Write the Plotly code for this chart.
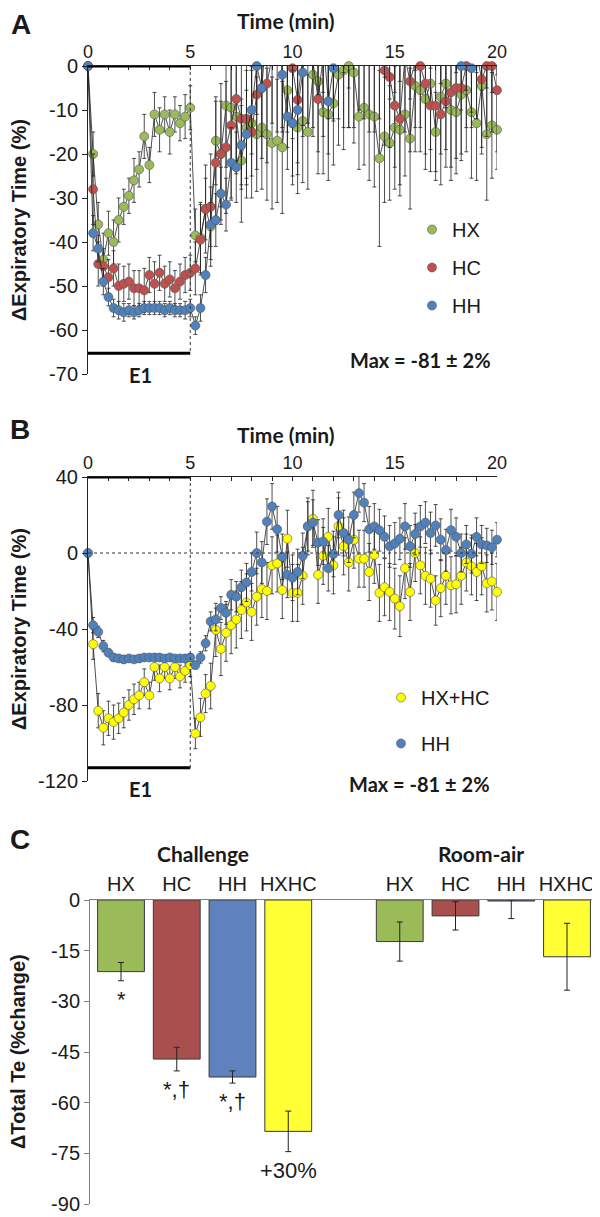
import plotly.graph_objects as go

# time points (min), one every 15 s
time_min = [i / 4 for i in range(81)]

# Panel A: change in expiratory time (%)
hx = [0, -20, -36, -44, -38, -40, -35, -32, -29.5, -26, -23.5, -16, -22.5, -11, -14.5, -11, -15, -11, -13, -11.5, -9.5,
      -38.5, -39, -32.5, -36.5, -17, -20, -9, -9.5, -11.5, -21.5, -14, -13, -15.5, -14, -15.5, -17.5, -17, -18.5, -5.5, -13,
      -14, -12.5, -15, -2, -3.5, -10.5, -11, -8.5, -2, -1, 0, -1.5, -11.5, -9.5, -11, -11.5, -21, -16, -17.5, -14,
      -14.5, -11, -16.5, -4.5, -5.5, -7.5, -4, -15, -7, -4, -10, -10.5, -6.5, -5.5, -10.5, -13, -4.5, -15.5, -13.5, -14.5]
hx_err = [0, 5, 5, 6, 5, 5, 5, 4, 4, 5, 4, 5, 4, 5, 5, 4, 5, 4, 4, 5, 5,
          6, 8, 7, 9, 10, 12, 14, 12, 13, 14, 13, 12, 13, 14, 15, 15, 14, 15, 13, 14,
          15, 14, 13, 14, 16, 14, 15, 14, 16, 18, 14, 16, 12, 13, 15, 16, 20, 15, 13, 14,
          15, 14, 16, 15, 14, 16, 15, 9, 13, 15, 16, 14, 15, 14, 15, 13, 14, 15, 12, 9]

hc = [0, -28, -45, -45.5, -48, -46, -50, -49.5, -49, -50.5, -50.5, -51, -47.5, -49.5, -47, -49.5, -48.5, -50.5, -49, -47.5, -47,
      -46, -39.5, -32.5, -32, -22, -20, -18.5, -13.5, -7.5, -12, -12, -15, -6.5, -5, -4, 2, 1, 3, 2, -0.5,
      -7.7, 2, 3, 1, -7.5, 2, 4, 3, 5, 2, 4, 3, 6, 3, 2, 1, 3, -1, -2.5, -9,
      -12, 2, -3.5, 1, 0, -4, -9, -9, -11, -8, -6, -5, -5, 0, 2, 3, -3, 0, 0, -5.5]
hc_err = [0, 8, 5, 4, 4, 4, 5, 4, 4, 4, 4, 5, 4, 5, 4, 4, 4, 4, 4, 4, 4,
          6, 8, 10, 12, 14, 16, 15, 17, 14, 16, 18, 15, 17, 16, 18, 15, 16, 18, 17, 16,
          17, 18, 16, 15, 17, 18, 16, 15, 17, 16, 18, 17, 16, 15, 17, 16, 15, 17, 16, 14,
          15, 17, 16, 15, 14, 16, 15, 17, 16, 15, 17, 16, 15, 14, 16, 15, 17, 16, 15, 14]

# HH is shared by panels A and B
hh = [0, -38, -41.5, -49, -52.5, -55, -55.5, -56, -55.5, -56, -55.5, -55, -55, -55, -55, -55.5, -55, -55.5, -55.5, -55.5, -55,
      -59, -55, -47.5, -36, -35, -29, -31.5, -22, -23, -18, -15.5, -10, 0, -5, 16.5, 24.5, 12.5, -2, -11.5, -13,
      -10, -1.5, 14, 16, 5.5, 6, -8, -0.5, 20, 10.5, 7, 20, 31.5, 26.5, 12.5, 14, 12, 8.5, 3.5, 5,
      7.5, 14, 3.5, 10, 14, 16, 10.5, 14.5, 7, 1.5, 12, 8.5, 0, 4.5, -0.5, 8.5, 4.5, 4, 3, 7]
hh_err = [0, 4, 3, 3, 2, 2, 2, 2, 1.5, 1.5, 1.5, 1.5, 1.5, 1.5, 1.5, 1.5, 1.5, 1.5, 1.5, 2, 2,
          2, 3, 4, 5, 6, 6, 6, 8, 8, 9, 10, 10, 11, 11, 12, 12, 12, 12, 12, 12,
          12, 12, 13, 12, 12, 12, 12, 12, 12, 12, 12, 12, 10, 10, 12, 12, 11, 11, 11, 11,
          11, 12, 11, 11, 11, 11, 11, 11, 11, 11, 11, 10, 10, 10, 10, 10, 10, 9, 9, 9]

# Panel B: HX+HC
hxhc = [0, -48, -83, -92, -87, -89, -87, -84, -80, -77, -75, -68, -75, -60, -66, -60, -66, -60, -65, -62, -59,
        -95, -86.5, -74, -70, -40.5, -50.5, -42, -38, -35, -30, -26, -31, -23, -19, -20, -6.5, -5.5, -19.5, 7.5, -21,
        -21, -12, 14, 18, -11.5, -1.5, 8.5, -6.5, 14, 3.5, -5, 7, -3, -3, -10, -1, -21, -18, -20.5, -24,
        -28, -8, -20.5, 0, -6.5, -12, -13.5, -25, -18.5, -12, -17, -16.5, -12, -5, -7, -10, -7, -16, -15, -20.5]
hxhc_err = [0, 8, 9, 9, 9, 9, 8, 8, 8, 8, 7, 7, 7, 7, 7, 6, 6, 6, 6, 6, 6,
            8, 10, 10, 12, 14, 14, 15, 15, 15, 15, 15, 15, 15, 15, 15, 15, 15, 15, 15, 15,
            15, 15, 15, 15, 15, 15, 15, 15, 15, 15, 15, 15, 15, 15, 15, 15, 15, 15, 15, 16,
            16, 16, 15, 15, 15, 15, 15, 13, 15, 15, 15, 15, 15, 15, 15, 15, 15, 15, 15, 15]

# Panel C: change in total Te (% change)
bar_labels = ["HX", "HC", "HH", "HXHC"]
challenge = [-21.2, -47.1, -52.4, -68.5]
challenge_err = [2.7, 3.5, 1.8, 6.0]
challenge_marks = ["*", "*,†", "*,†", "+30%"]
room_air = [-12.3, -4.7, -0.3, -16.8]
room_air_err_up = [5.8, 4.2, 0.3, 9.9]
room_air_err_down = [5.8, 4.2, 5.2, 9.9]

# the page puts the figure 8 px in from the top-left corner
OFF = 8
W, H = 600 - OFF, 1217 - OFF
def px(x):
    return (x - OFF) / W
def py(y):
    return 1 - (y - OFF) / H

ARIAL = "Liberation Sans, Arial, sans-serif"
CALIBRI = "Lato, Carlito, sans-serif"
INK = "#1a1a1a"

fig = go.Figure()


def add_series(y, err, color, name, xa, ya, legend, ymax):
    # connecting line and error bars, clipped to the plot area
    fig.add_trace(go.Scatter(
        x=time_min, y=y, mode="lines", xaxis=xa, yaxis=ya,
        line=dict(color="#222222", width=0.8),
        error_y=dict(type="data", array=err, color="#222222", thickness=0.8, width=2),
        showlegend=False, hoverinfo="skip"))
    # markers, unclipped so points sitting on the axis stay whole;
    # points beyond the top of the axis are left out
    fig.add_trace(go.Scatter(
        x=time_min, y=[v if v <= ymax else None for v in y], mode="markers",
        name=name, xaxis=xa, yaxis=ya, legend=legend, legendgroup=legend + name,
        marker=dict(size=9, color=color, line=dict(color="#555555", width=0.6)),
        cliponaxis=False))


add_series(hx, hx_err, "#9BBB59", "HX", "x", "y", "legend", 0)
add_series(hc, hc_err, "#C0504D", "HC", "x", "y", "legend", 0)
add_series(hh, hh_err, "#4F81BD", "HH", "x", "y", "legend", 0)

add_series(hxhc, hxhc_err, "#FFFF00", "HX+HC", "x2", "y2", "legend2", 40)
add_series(hh, hh_err, "#4F81BD", "HH", "x2", "y2", "legend2", 40)

# Panel C bars
n = len(bar_labels)
ch_pos = list(range(n))
ra_pos = [i + n + 1 for i in range(n)]
bar_colors = ["#9BBB59", "#A9504E", "#5F82BF", "#FFFF33"]
fig.add_trace(go.Bar(
    x=ch_pos, y=challenge, width=0.84, xaxis="x3", yaxis="y3", showlegend=False,
    marker=dict(color=bar_colors, line=dict(color="#3a3a3a", width=1)),
    error_y=dict(type="data", array=challenge_err, color="#222222", thickness=1, width=3)))
fig.add_trace(go.Bar(
    x=ra_pos, y=room_air, width=0.84, xaxis="x3", yaxis="y3", showlegend=False,
    marker=dict(color=bar_colors, line=dict(color="#3a3a3a", width=1)),
    error_y=dict(type="data", symmetric=False, array=room_air_err_up,
                 arrayminus=room_air_err_down, color="#222222", thickness=1, width=3)))

time_axis = dict(
    range=[0, 20], side="top", showline=True, linecolor="#222222", linewidth=1,
    tickmode="array", tickvals=list(range(21)),
    ticktext=[str(v) if v % 5 == 0 else "" for v in range(21)],
    ticks="inside", ticklen=4, tickcolor="#222222",
    tickfont=dict(family=ARIAL, size=18, color=INK),
    showgrid=False, zeroline=False, automargin=False)


def value_axis(lo, hi, step, color="#222222"):
    vals = list(range(lo, hi + 1, step))
    return dict(range=[lo, hi], tickmode="array", tickvals=vals,
                ticktext=[str(v) for v in vals], ticks="outside", ticklen=5,
                tickcolor=color, showline=True, linecolor=color, linewidth=1,
                tickfont=dict(family=ARIAL, size=20, color=INK),
                ticklabeloverflow="allow",
                showgrid=False, zeroline=False, automargin=False)


fig.update_layout(
    template="none",
    width=W, height=H, margin=dict(l=0, r=0, t=0, b=0, pad=0),
    paper_bgcolor="white", plot_bgcolor="white",
    font=dict(family=ARIAL, color=INK),
    barmode="overlay",
    xaxis=dict(time_axis, domain=[px(88), px(497)], anchor="y"),
    yaxis=dict(value_axis(-70, 0, 10), domain=[py(374), py(66)], anchor="x"),
    xaxis2=dict(time_axis, domain=[px(88), px(497)], anchor="y2"),
    yaxis2=dict(value_axis(-120, 40, 40), domain=[py(781), py(477)], anchor="x2"),
    xaxis3=dict(domain=[px(90), px(598)], anchor="y3", side="top",
                range=[-0.556, 2 * n + 0.556], showline=True, linecolor="#7f7f7f",
                tickmode="array", tickvals=ch_pos + ra_pos, ticktext=bar_labels * 2,
                ticks="", tickfont=dict(family=ARIAL, size=20, color=INK),
                showgrid=False, zeroline=False, automargin=False),
    yaxis3=dict(value_axis(-90, 0, 15, "#7f7f7f"), domain=[py(1204), py(900)], anchor="x3"),
    legend=dict(x=px(412), y=py(210), xanchor="left", yanchor="top",
                font=dict(family=ARIAL, size=20, color=INK), bgcolor="rgba(0,0,0,0)",
                tracegroupgap=9, borderwidth=0),
    legend2=dict(x=px(381), y=py(678), xanchor="left", yanchor="top",
                 font=dict(family=ARIAL, size=20, color=INK), bgcolor="rgba(0,0,0,0)",
                 tracegroupgap=17, borderwidth=0),
)

# E1 bars and dashed guides
thick = dict(color="black", width=3)
guide = dict(color="#333333", width=1, dash="dot")
fig.add_shape(type="line", xref="x", yref="y", x0=0, x1=5, y0=0, y1=0, line=thick)
fig.add_shape(type="line", xref="x", yref="y", x0=0, x1=5, y0=-65.3, y1=-65.3, line=thick)
fig.add_shape(type="line", xref="x", yref="y", x0=5, x1=5, y0=0, y1=-65.3, line=guide)
fig.add_shape(type="line", xref="x2", yref="y2", x0=0, x1=5, y0=40, y1=40, line=thick)
fig.add_shape(type="line", xref="x2", yref="y2", x0=0, x1=5, y0=-113, y1=-113, line=thick)
fig.add_shape(type="line", xref="x2", yref="y2", x0=5, x1=5, y0=40, y1=-113, line=guide)
fig.add_shape(type="line", xref="x2", yref="y2", x0=0, x1=20.5, y0=0, y1=0,
              line=dict(color="#333333", width=1, dash="3px,3px"))


def note(text, x, y, size, family=ARIAL, angle=0):
    fig.add_annotation(text=text, x=px(x), y=py(y), xref="paper", yref="paper",
                       xanchor="center", yanchor="middle",
                       showarrow=False, textangle=angle,
                       font=dict(family=family, size=size, color=INK))


# panel letters and titles
note("<b>A</b>", 21, 24, 28)
note("<b>B</b>", 20, 430, 28)
note("<b>C</b>", 20, 839, 28)
note("<b>Time (min)</b>", 286, 21, 21, CALIBRI)
note("<b>Time (min)</b>", 286, 434, 21, CALIBRI)
note("<b>E1</b>", 140, 375, 20, CALIBRI)
note("<b>E1</b>", 140, 789, 20, CALIBRI)
note("<b>Max = -81 ± 2%</b>", 420, 360, 20, CALIBRI)
note("<b>Max = -81 ± 2%</b>", 419, 784, 20, CALIBRI)
note("<b>ΔExpiratory Time (%)</b>", 19, 220, 20, angle=-90)
note("<b>ΔExpiratory Time (%)</b>", 19, 629, 20, angle=-90)
note("<b>ΔTotal Te (%change)</b>", 18, 1052, 20, angle=-90)
note("<b>Challenge</b>", 203, 853, 21, CALIBRI)
note("<b>Room-air</b>", 481, 853, 21, CALIBRI)

# significance marks under the challenge bars
for pos, val, err, mark in zip(ch_pos, challenge, challenge_err, challenge_marks):
    fig.add_annotation(text=mark, x=pos, y=val - err, xref="x3", yref="y3",
                       yanchor="top", yshift=-4, showarrow=False,
                       font=dict(family=ARIAL, size=22, color=INK))

fig.write_html("out.html")
